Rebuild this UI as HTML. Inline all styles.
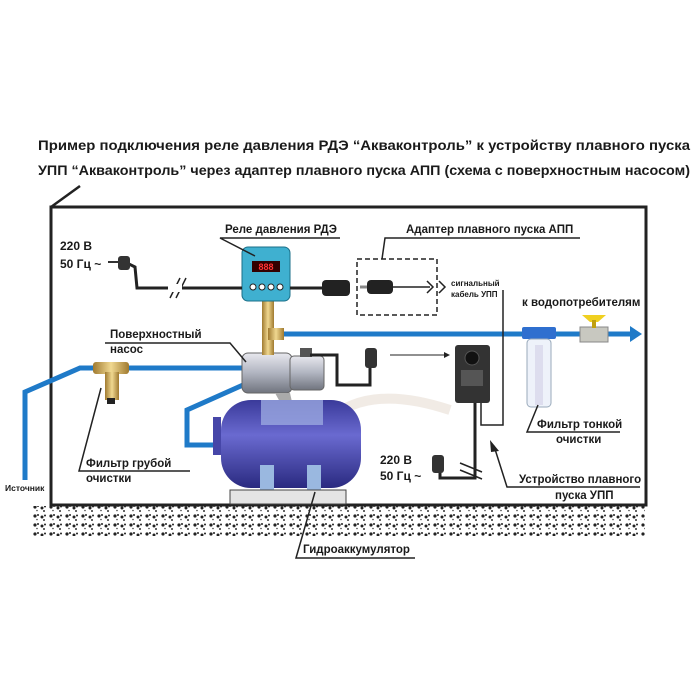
<!DOCTYPE html>
<html><head><meta charset="utf-8"><style>
html,body{margin:0;padding:0;background:#fff;width:700px;height:700px;overflow:hidden}
svg text{font-family:"Liberation Sans","DejaVu Sans",sans-serif;font-weight:bold;fill:#1a1a1a}
</style></head><body>
<svg width="700" height="700" viewBox="0 0 700 700" xmlns="http://www.w3.org/2000/svg">
<defs>
<pattern id="gr" width="16" height="9" patternUnits="userSpaceOnUse">
<circle cx="3" cy="3" r="1.6" fill="#222"/><circle cx="6" cy="2" r="1" fill="#222"/><circle cx="10" cy="4" r="1.5" fill="#222"/><circle cx="13" cy="2.5" r="1" fill="#222"/><circle cx="5" cy="6.5" r="0.8" fill="#444"/><circle cx="12" cy="7" r="1" fill="#333"/>
</pattern>
<linearGradient id="tank" x1="0" y1="0" x2="0" y2="1"><stop offset="0" stop-color="#3a3a9a"/><stop offset="0.4" stop-color="#6a6ad0"/><stop offset="1" stop-color="#2a2a80"/></linearGradient>
<linearGradient id="pump" x1="0" y1="0" x2="0" y2="1"><stop offset="0" stop-color="#e8e8ee"/><stop offset="0.5" stop-color="#b0b4c0"/><stop offset="1" stop-color="#70747e"/></linearGradient>
<linearGradient id="brass" x1="0" y1="0" x2="1" y2="0"><stop offset="0" stop-color="#a07a30"/><stop offset="0.5" stop-color="#f0d890"/><stop offset="1" stop-color="#a07a30"/></linearGradient>
</defs>

<!-- title -->
<text x="38" y="150" font-size="14" textLength="652" lengthAdjust="spacingAndGlyphs">Пример подключения реле давления РДЭ “Акваконтроль” к устройству плавного пуска</text>
<text x="38" y="175" font-size="14" textLength="652" lengthAdjust="spacingAndGlyphs">УПП “Акваконтроль” через адаптер плавного пуска АПП (схема с поверхностным насосом)</text>
<polyline points="51,207 80,186" stroke="#222" stroke-width="2.5" fill="none"/>

<!-- frame -->
<rect x="51" y="207" width="595" height="298" fill="none" stroke="#222" stroke-width="3"/>
<rect x="30" y="506" width="615" height="30" fill="url(#gr)"/>
<line x1="51" y1="505" x2="646" y2="505" stroke="#222" stroke-width="3"/>

<!-- watermark hint -->
<path d="M300,470 Q330,370 450,410" stroke="#e4d8cc" stroke-width="10" fill="none" opacity="0.5"/>

<!-- left pipe -->
<polyline points="25,480 25,392 80,368 243,368" stroke="#1f7ac8" stroke-width="5" fill="none"/>
<polyline points="243,385 187,410 187,445 215,445" stroke="#1f7ac8" stroke-width="5" fill="none"/>
<!-- main outlet pipe -->
<line x1="283" y1="334" x2="632" y2="334" stroke="#1f7ac8" stroke-width="5"/>
<polygon points="630,326 642,334 630,342" fill="#1f7ac8"/>

<!-- coarse filter -->
<rect x="93" y="362" width="36" height="12" rx="3" fill="url(#brass)"/>
<rect x="105" y="372" width="14" height="28" fill="url(#brass)"/>
<rect x="107" y="398" width="8" height="6" fill="#222"/>

<!-- pump -->
<rect x="242" y="353" width="50" height="40" rx="6" fill="url(#pump)" stroke="#666"/>
<rect x="290" y="356" width="34" height="34" rx="4" fill="url(#pump)" stroke="#666"/>
<rect x="300" y="348" width="12" height="9" fill="#555"/>
<polygon points="275,393 290,393 292,402 280,402" fill="#aaa"/>
<!-- tee -->
<rect x="262" y="300" width="12" height="55" fill="url(#brass)"/>
<rect x="268" y="328" width="16" height="12" fill="url(#brass)"/>

<!-- tank -->
<rect x="213" y="417" width="8" height="38" fill="#4646a8"/>
<rect x="221" y="400" width="140" height="88" rx="30" fill="url(#tank)"/>
<rect x="261" y="400" width="62" height="25" fill="#9aa8e0" opacity="0.8"/>
<rect x="260" y="465" width="14" height="25" fill="#9ab8e0"/>
<rect x="307" y="465" width="14" height="25" fill="#9ab8e0"/>
<rect x="230" y="490" width="116" height="14" fill="#e4e4e4" stroke="#444"/>

<!-- relay -->
<rect x="242" y="247" width="48" height="54" rx="6" fill="#3fb0d0" stroke="#1b6f88"/>
<rect x="252" y="261" width="28" height="11" fill="#300"/>
<text x="266" y="270" font-size="9" style="fill:#f33" text-anchor="middle">888</text>
<circle cx="253" cy="287" r="3" fill="#fff" stroke="#222"/><circle cx="262" cy="287" r="3" fill="#fff" stroke="#222"/><circle cx="271" cy="287" r="3" fill="#fff" stroke="#222"/><circle cx="280" cy="287" r="3" fill="#fff" stroke="#222"/>

<!-- power cable left -->
<polyline points="125,262 135,267 137,288 242,288" stroke="#222" stroke-width="3" fill="none"/>
<rect x="118" y="256" width="12" height="14" rx="3" fill="#333"/>
<line x1="108" y1="262" x2="118" y2="262" stroke="#333" stroke-width="2"/>
<line x1="170" y1="298" x2="180" y2="278" stroke="#222" stroke-width="1.5"/>
<line x1="176" y1="298" x2="186" y2="278" stroke="#222" stroke-width="1.5"/>
<rect x="168" y="284" width="14" height="8" fill="#fff"/>
<line x1="290" y1="288" x2="322" y2="288" stroke="#222" stroke-width="3"/>
<rect x="322" y="280" width="28" height="16" rx="4" fill="#222"/>

<!-- adapter box -->
<rect x="357" y="259" width="80" height="56" fill="none" stroke="#222" stroke-width="1.5" stroke-dasharray="5,3"/>
<rect x="367" y="280" width="26" height="14" rx="4" fill="#222"/>
<line x1="360" y1="287" x2="367" y2="287" stroke="#888" stroke-width="3"/>
<line x1="393" y1="287" x2="430" y2="287" stroke="#222" stroke-width="1.5"/>
<polyline points="427,281 433,287 427,293" stroke="#222" stroke-width="1.5" fill="none"/>
<polyline points="439,281 445,287 439,293" stroke="#222" stroke-width="1.5" fill="none"/>
<text x="451" y="286" font-size="8">сигнальный</text>
<text x="451" y="297" font-size="8">кабель УПП</text>
<polyline points="503,290 503,425 481,425 481,403" stroke="#222" stroke-width="1.5" fill="none"/>

<!-- pump cable & plug -->
<polyline points="310,355 337,355 337,385 370,385 370,368" stroke="#222" stroke-width="3" fill="none"/>
<rect x="365" y="348" width="12" height="20" rx="3" fill="#333"/>
<line x1="390" y1="355" x2="445" y2="355" stroke="#222" stroke-width="1"/>
<polygon points="444,352 450,355 444,358" fill="#222"/>

<!-- UPP device -->
<rect x="455" y="345" width="35" height="58" rx="3" fill="#333"/>
<circle cx="472" cy="358" r="7" fill="#111" stroke="#555"/>
<rect x="461" y="370" width="22" height="16" fill="#555"/>
<polyline points="475,403 475,478 440,478 440,470" stroke="#222" stroke-width="3" fill="none"/>
<rect x="432" y="455" width="12" height="18" rx="3" fill="#333"/>
<line x1="460" y1="463" x2="482" y2="472" stroke="#222" stroke-width="1.5"/>
<line x1="460" y1="470" x2="482" y2="479" stroke="#222" stroke-width="1.5"/>
<text x="380" y="464" font-size="12">220 В</text>
<text x="380" y="480" font-size="12">50 Гц ~</text>

<!-- fine filter & valve -->
<rect x="522" y="327" width="34" height="12" rx="2" fill="#2f6fcf"/>
<rect x="527" y="339" width="24" height="68" rx="4" fill="#eef2fa" stroke="#9ab"/>
<rect x="535" y="345" width="8" height="60" fill="#dde"/>
<rect x="580" y="327" width="28" height="15" fill="#c8c8c0" stroke="#888"/>
<polygon points="582,315 606,315 598,322 590,322" fill="#f0d020"/>
<rect x="592" y="320" width="4" height="8" fill="#c0a010"/>

<!-- labels -->
<text x="225" y="233" font-size="11.5">Реле давления РДЭ</text>
<polyline points="340,238 220,238 255,256" stroke="#222" stroke-width="1.5" fill="none"/>
<text x="406" y="233" font-size="11.5">Адаптер плавного пуска АПП</text>
<polyline points="580,238 385,238 382,259" stroke="#222" stroke-width="1.5" fill="none"/>
<text x="60" y="250" font-size="12">220 В</text>
<text x="60" y="268" font-size="12">50 Гц ~</text>
<text x="522" y="306" font-size="11.5">к водопотребителям</text>
<text x="110" y="338" font-size="11.5">Поверхностный</text>
<text x="110" y="353" font-size="11.5">насос</text>
<polyline points="105,343 230,343 246,362" stroke="#222" stroke-width="1.5" fill="none"/>
<text x="86" y="467" font-size="11.5">Фильтр грубой</text>
<text x="86" y="482" font-size="11.5">очистки</text>
<polyline points="190,471 79,471 101,388" stroke="#222" stroke-width="1.5" fill="none"/>
<text x="5" y="491" font-size="8.5">Источник</text>
<text x="537" y="428" font-size="11.5">Фильтр тонкой</text>
<text x="556" y="443" font-size="11.5">очистки</text>
<polyline points="620,432 527,432 538,405" stroke="#222" stroke-width="1.5" fill="none"/>
<text x="519" y="483" font-size="11.5">Устройство плавного</text>
<text x="555" y="499" font-size="11.5">пуска УПП</text>
<polyline points="640,487 507,487 494,446" stroke="#222" stroke-width="1.5" fill="none"/>
<polygon points="490,440 499,451 491,452" fill="#222"/>
<text x="303" y="553" font-size="11.5">Гидроаккумулятор</text>
<polyline points="415,558 296,558 315,492" stroke="#222" stroke-width="1.5" fill="none"/>
</svg>
</body></html>
